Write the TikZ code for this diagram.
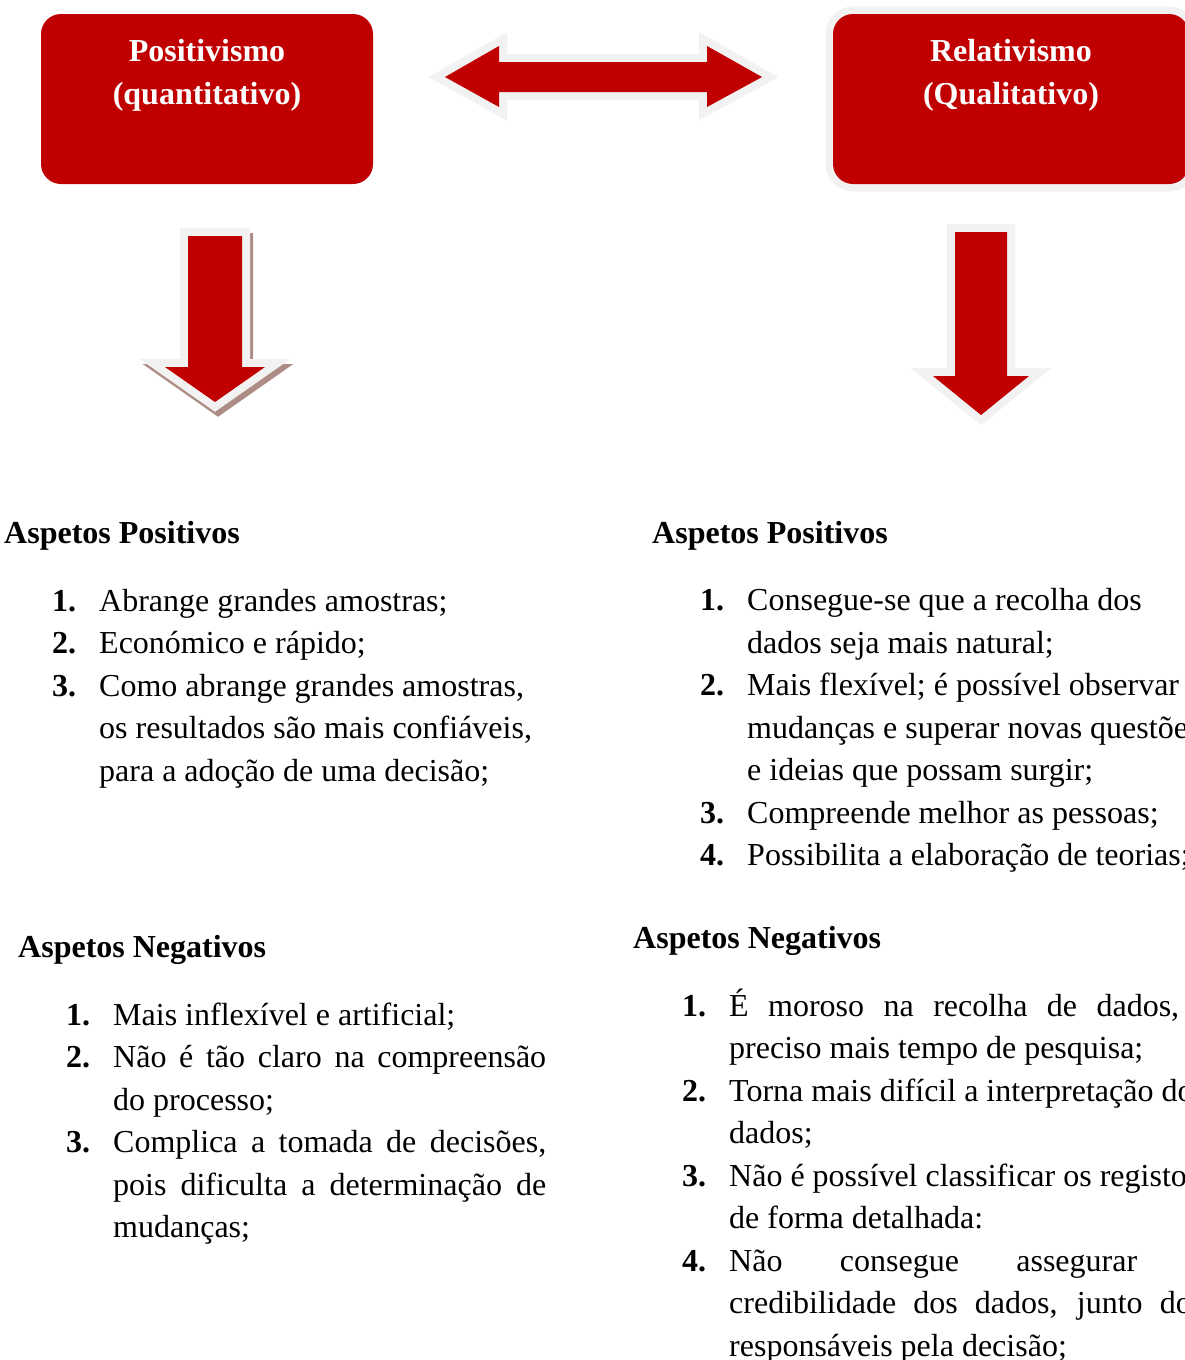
\documentclass[tikz,border=0pt]{standalone}
\usepackage{fontspec}
\setmainfont[Ligatures=TeX]{Liberation Serif}
\definecolor{myred}{RGB}{192,0,0}
\definecolor{halo}{RGB}{242,242,242}
\definecolor{shade}{RGB}{172,140,132}
\begin{document}
\begin{tikzpicture}[x=1pt,y=-1pt,
  txt/.style={anchor=base west,inner sep=0pt,font=\fontsize{32}{40}\selectfont},
  num/.style={anchor=base west,inner sep=0pt,font=\fontsize{32}{40}\selectfont\bfseries},
  heading/.style={num},
  title/.style={anchor=base,inner sep=0pt,text=white,font=\fontsize{32}{40}\selectfont\bfseries},
  redbox/.style={fill=myred,rounded corners=20pt,inner sep=0pt,draw=none},
  haloline/.style={draw=halo,line width=16pt,line join=miter},
  shadowline/.style={draw=shade,fill=shade,line width=16pt,line join=miter},
  redfill/.style={fill=myred,draw=none},
]
\useasboundingbox (0,0) rectangle (1185,1360);
\clip (0,0) rectangle (1185,1360);

% ---- top boxes
\node[redbox,minimum width=332pt,minimum height=170pt] (posbox) at (207,99) {};
\node[redbox,minimum width=356pt,minimum height=170pt,
      preaction={draw=halo,line width=15pt}] (relbox) at (1011,99) {};
\node[title] (pos1) at (207,61) {Positivismo};
\node[title] (pos2) at (207,104) {(quantitativo)};
\node[title] (rel1) at (1011,61) {Relativismo};
\node[title] (rel2) at (1011,104) {(Qualitativo)};

% ---- double arrow
\path[haloline] (445,77) -- (499,46) -- (499,62) -- (707,62) -- (707,46) -- (762,77)
  -- (707,107) -- (707,92) -- (499,92) -- (499,107) -- cycle;
\path[redfill] (445,77) -- (499,46) -- (499,62) -- (707,62) -- (707,46) -- (762,77)
  -- (707,107) -- (707,92) -- (499,92) -- (499,107) -- cycle;

% ---- left down arrow
\begin{scope}[shift={(3,5)}]
\path[shadowline] (188,236) -- (242,236) -- (242,367) -- (265,367) -- (215,402)
  -- (165,367) -- (188,367) -- cycle;
\end{scope}
\path[haloline] (188,236) -- (242,236) -- (242,367) -- (265,367) -- (215,402)
  -- (165,367) -- (188,367) -- cycle;
\path[redfill] (188,236) -- (242,236) -- (242,367) -- (265,367) -- (215,402)
  -- (165,367) -- (188,367) -- cycle;

% ---- right down arrow
\path[haloline] (955,232) -- (1007,232) -- (1007,376) -- (1029,376) -- (981,415)
  -- (933,376) -- (955,376) -- cycle;
\path[redfill] (955,232) -- (1007,232) -- (1007,376) -- (1029,376) -- (981,415)
  -- (933,376) -- (955,376) -- cycle;

% ---- left: aspetos positivos
\node[heading] (lph) at (4,543) {Aspetos Positivos};
\node[num] (lp1n) at (52,611) {1.};
\node[txt] (lp1) at (99,611) {Abrange grandes amostras;};
\node[num] (lp2n) at (52,653.5) {2.};
\node[txt] (lp2) at (99,653.5) {Económico e rápido;};
\node[num] (lp3n) at (52,696) {3.};
\node[txt] (lp3a) at (99,696) {Como abrange grandes amostras,};
\node[txt] (lp3b) at (99,738.5) {os resultados são mais confiáveis,};
\node[txt] (lp3c) at (99,781) {para a adoção de uma decisão;};

% ---- left: aspetos negativos
\node[heading] (lnh) at (18,957) {Aspetos Negativos};
\node[num] (ln1n) at (66,1025) {1.};
\node[txt] (ln1) at (113,1025) {Mais inflexível e artificial;};
\node[num] (ln2n) at (66,1067.5) {2.};
\node[txt] (ln2a) at (113,1067.5) {\makebox[433pt][s]{Não é tão claro na compreensão}};
\node[txt] (ln2b) at (113,1110) {do processo;};
\node[num] (ln3n) at (66,1152.5) {3.};
\node[txt] (ln3a) at (113,1152.5) {\makebox[433pt][s]{Complica a tomada de decisões,}};
\node[txt] (ln3b) at (113,1195) {\makebox[433pt][s]{pois dificulta a determinação de}};
\node[txt] (ln3c) at (113,1237.5) {mudanças;};

% ---- right: aspetos positivos
\node[heading] (rph) at (652,543) {Aspetos Positivos};
\node[num] (rp1n) at (700,610.5) {1.};
\node[txt] (rp1a) at (747,610.5) {Consegue-se que a recolha dos};
\node[txt] (rp1b) at (747,653) {dados seja mais natural;};
\node[num] (rp2n) at (700,695.5) {2.};
\node[txt] (rp2a) at (747,695.5) {Mais flexível; é possível observar};
\node[txt] (rp2b) at (747,738) {mudanças e superar novas questões};
\node[txt] (rp2c) at (747,780.5) {e ideias que possam surgir;};
\node[num] (rp3n) at (700,823) {3.};
\node[txt] (rp3) at (747,823) {Compreende melhor as pessoas;};
\node[num] (rp4n) at (700,865.5) {4.};
\node[txt] (rp4) at (747,865.5) {Possibilita a elaboração de teorias;};

% ---- right: aspetos negativos
\node[heading] (rnh) at (633,948) {Aspetos Negativos};
\node[num] (rn1n) at (682,1016) {1.};
\node[txt] (rn1a) at (729,1016) {\makebox[450pt][s]{É moroso na recolha de dados,}};
\node[txt] (rn1b) at (729,1058.5) {preciso mais tempo de pesquisa;};
\node[num] (rn2n) at (682,1101) {2.};
\node[txt] (rn2a) at (729,1101) {Torna mais difícil a interpretação dos};
\node[txt] (rn2b) at (729,1143.5) {dados;};
\node[num] (rn3n) at (682,1186) {3.};
\node[txt] (rn3a) at (729,1186) {Não é possível classificar os registos};
\node[txt] (rn3b) at (729,1228.5) {de forma detalhada:};
\node[num] (rn4n) at (682,1271) {4.};
\node[txt] (rn4a) at (729,1271) {\makebox[408pt][s]{Não consegue assegurar}};
\node[txt] (rn4b) at (729,1313.5) {\makebox[475pt][s]{credibilidade dos dados, junto dos}};
\node[txt] (rn4c) at (729,1356) {responsáveis pela decisão;};
\end{tikzpicture}
\end{document}
